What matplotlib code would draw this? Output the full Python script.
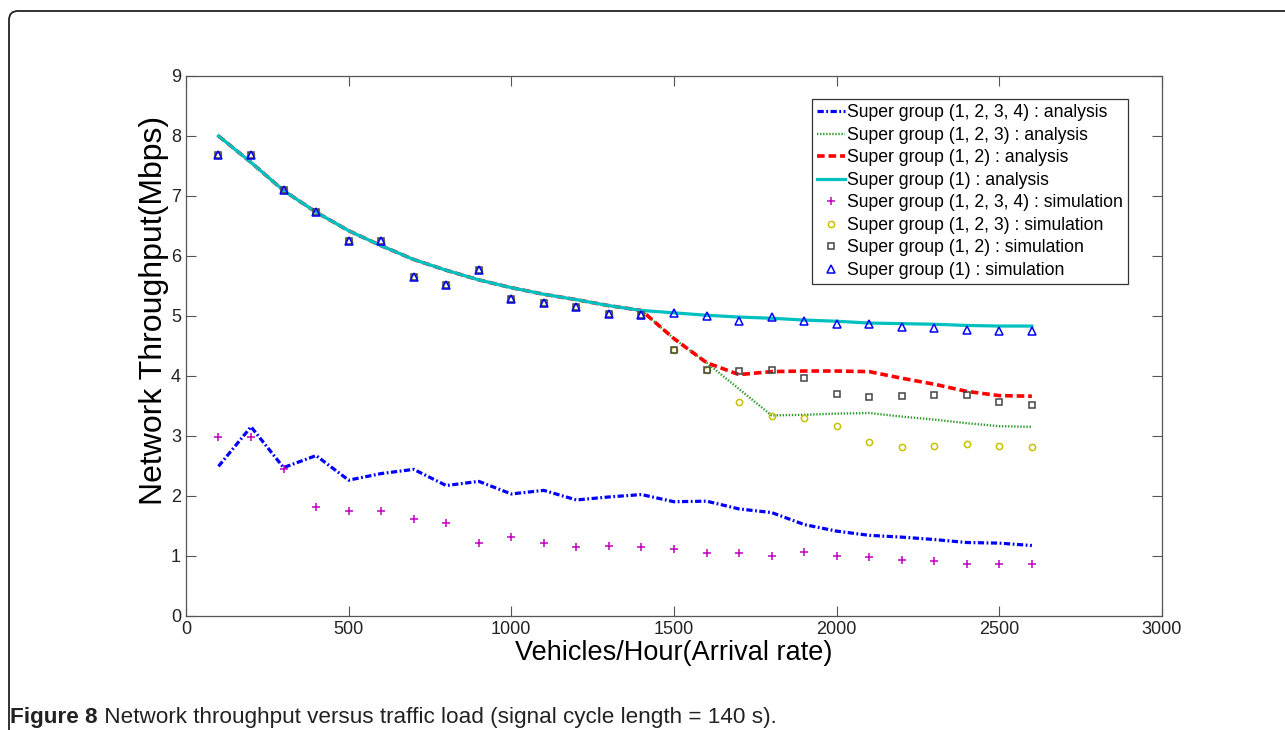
import matplotlib
matplotlib.use("Agg")
import matplotlib.pyplot as plt
from matplotlib.patches import FancyBboxPatch
from matplotlib.transforms import IdentityTransform

plt.rcParams['font.family'] = ['Liberation Sans', 'DejaVu Sans']
plt.rcParams['lines.scale_dashes'] = False

# arrival rate (vehicles/hour)
arrival = [100, 200, 300, 400, 500, 600, 700, 800, 900, 1000, 1100, 1200, 1300,
           1400, 1500, 1600, 1700, 1800, 1900, 2000, 2100, 2200, 2300, 2400,
           2500, 2600]

# analysis curves
ana_1234 = [2.49, 3.15, 2.47, 2.67, 2.26, 2.37, 2.44, 2.17, 2.24, 2.03, 2.09,
            1.93, 1.98, 2.02, 1.90, 1.91, 1.78, 1.72, 1.52, 1.41, 1.34, 1.31,
            1.27, 1.22, 1.21, 1.17]
ana_123 = [8.00, 7.56, 7.09, 6.73, 6.42, 6.17, 5.94, 5.76, 5.60, 5.47, 5.36,
           5.27, 5.17, 5.09, 4.62, 4.22, 3.78, 3.34, 3.35, 3.37, 3.38, 3.32,
           3.27, 3.21, 3.16, 3.15]
ana_12 = [8.00, 7.56, 7.09, 6.73, 6.42, 6.17, 5.94, 5.76, 5.60, 5.47, 5.36,
          5.27, 5.17, 5.09, 4.62, 4.22, 4.02, 4.07, 4.08, 4.08, 4.07, 3.96,
          3.86, 3.74, 3.67, 3.66]
ana_1 = [8.00, 7.56, 7.09, 6.73, 6.42, 6.17, 5.94, 5.76, 5.60, 5.47, 5.36,
         5.27, 5.17, 5.09, 5.05, 5.01, 4.98, 4.96, 4.93, 4.91, 4.88, 4.87,
         4.86, 4.84, 4.83, 4.83]

# simulation points
sim_1234 = [2.98, 2.98, 2.44, 1.81, 1.74, 1.74, 1.62, 1.55, 1.22, 1.31, 1.21,
            1.15, 1.16, 1.15, 1.11, 1.04, 1.04, 0.99, 1.06, 1.00, 0.98, 0.93,
            0.91, 0.86, 0.87, 0.87]
sim_123 = [7.69, 7.69, 7.10, 6.73, 6.24, 6.24, 5.65, 5.51, 5.76, 5.28, 5.22,
           5.15, 5.03, 5.01, 4.43, 4.09, 3.56, 3.33, 3.29, 3.16, 2.89, 2.82,
           2.83, 2.86, 2.83, 2.82]
sim_12 = [7.69, 7.69, 7.10, 6.73, 6.24, 6.24, 5.65, 5.51, 5.76, 5.28, 5.22,
          5.15, 5.03, 5.01, 4.43, 4.09, 4.08, 4.09, 3.96, 3.69, 3.64, 3.66,
          3.68, 3.68, 3.57, 3.52]
sim_1 = [7.69, 7.69, 7.10, 6.73, 6.24, 6.24, 5.65, 5.51, 5.76, 5.28, 5.22,
         5.15, 5.03, 5.01, 5.05, 5.00, 4.92, 4.98, 4.92, 4.87, 4.87, 4.82,
         4.80, 4.77, 4.75, 4.75]

x_ticks = [0, 500, 1000, 1500, 2000, 2500, 3000]
y_ticks = [0, 1, 2, 3, 4, 5, 6, 7, 8, 9]


def main():
    fig = plt.figure(figsize=(12.85, 7.3), dpi=100)
    ax = fig.add_axes([0.1447, 0.1566, 0.7596, 0.7393])

    ax.plot(arrival, ana_1234, color='#0000ff', lw=2.3,
            dashes=(4.5, 1.8, 1.3, 1.8),
            label='Super group (1, 2, 3, 4) : analysis')
    ax.plot(arrival, ana_123, color='#2e9a2e', lw=1.7, dashes=(1.0, 1.2),
            label='Super group (1, 2, 3) : analysis')
    ax.plot(arrival, ana_12, color='#ff0000', lw=2.6, dashes=(5.5, 2.8),
            label='Super group (1, 2) : analysis')
    ax.plot(arrival, ana_1, color='#00c0c0', lw=2.3,
            label='Super group (1) : analysis')

    ax.plot(arrival, sim_1234, ls='none', marker='+', ms=5.5, mew=1.1,
            color='#c000c0', label='Super group (1, 2, 3, 4) : simulation')
    ax.plot(arrival, sim_123, ls='none', marker='o', ms=4.5, mew=1.1,
            mfc='none', mec='#c8c000', label='Super group (1, 2, 3) : simulation')
    ax.plot(arrival, sim_12, ls='none', marker='s', ms=5, mew=1.1,
            mfc='none', mec='#444444', label='Super group (1, 2) : simulation')
    ax.plot(arrival, sim_1, ls='none', marker='^', ms=5.5, mew=1.1,
            mfc='none', mec='#0000ff', label='Super group (1) : simulation')

    ax.set_xlim(0, 3000)
    ax.set_ylim(0, 9)
    ax.set_xticks(x_ticks)
    ax.set_yticks(y_ticks)
    ax.tick_params(direction='in', length=7, width=0.8, top=True, right=True,
                   labelsize=13, colors='#555555', labelcolor='#222222')
    for spine in ax.spines.values():
        spine.set_color('#555555')
        spine.set_linewidth(0.9)

    ax.set_xlabel('Vehicles/Hour(Arrival rate)', fontsize=19.5, labelpad=2)
    ax.set_ylabel('Network Throughput(Mbps)', fontsize=23)
    ax.yaxis.set_label_coords(-0.017, 0.566)

    leg = ax.legend(loc='upper left', bbox_to_anchor=(0.641, 0.957),
                    borderaxespad=0, fontsize=12.7, handlelength=1.6,
                    handletextpad=0.1, labelspacing=0.31, borderpad=0.3,
                    fancybox=False, framealpha=1, edgecolor='#333333')
    leg.get_frame().set_linewidth(0.9)

    # outer rounded frame of the figure panel
    frame = FancyBboxPatch((9, -30), 1400, 749, transform=IdentityTransform(),
                           boxstyle='round,pad=0,rounding_size=9',
                           fill=False, edgecolor='#222222', lw=1.3)
    fig.patches.append(frame)

    t1 = fig.text(10 / 1285, 1 - 723 / 730, 'Figure 8', fontsize=16.2,
                  weight='bold', color='#222222')
    ax.annotate(' Network throughput versus traffic load '
                '(signal cycle length = 140 s).',
                xy=(1, 0), xycoords=t1, va='bottom', ha='left',
                fontsize=16.2, color='#222222', annotation_clip=False)

    fig.savefig('out.png', dpi=100)


if __name__ == '__main__':
    main()
